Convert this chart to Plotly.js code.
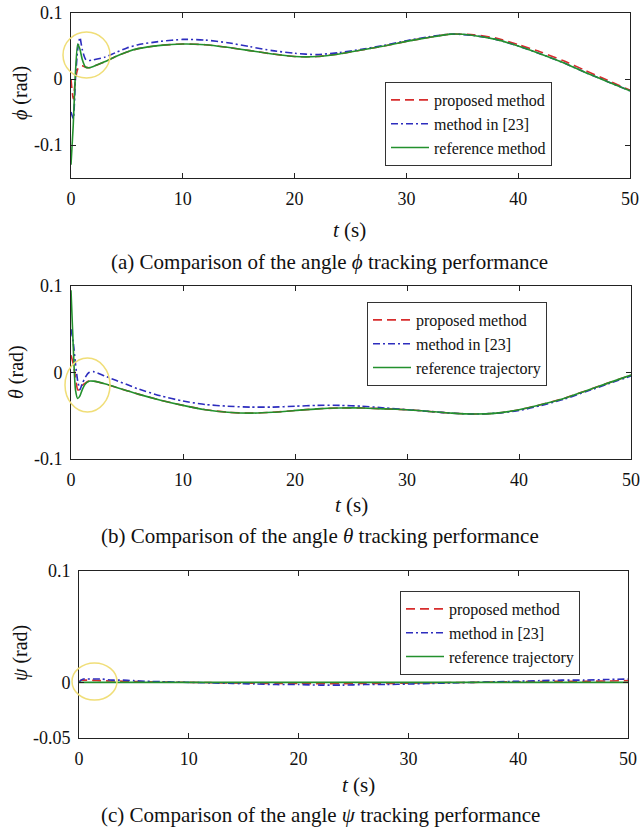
<!DOCTYPE html>
<html>
<head>
<meta charset="utf-8">
<script src="https://cdn.plot.ly/plotly-3.0.1.min.js"></script>
<style>html,body{margin:0;padding:0;background:#fff;}#chart{width:641px;height:829px;}</style>
</head>
<body>
<div id="chart"></div>
<script>
// ---- data ----
var time = [0, 0.2, 0.4, 0.6, 0.8, 1.0, 1.3, 1.6, 2, 3, 4, 5, 6, 8, 10, 12, 14, 16, 18, 20, 22, 24, 26, 28, 30, 32, 34, 36, 38, 40, 42, 44, 46, 48, 50];

var phiProposed  = [0.0, -0.03, 0.0, 0.015, 0.02, 0.02, 0.018, 0.017, 0.019, 0.026, 0.034, 0.041, 0.046, 0.051, 0.053, 0.052, 0.048, 0.043, 0.038, 0.034, 0.034, 0.038, 0.044, 0.05, 0.057, 0.063, 0.068, 0.067, 0.062, 0.052, 0.041, 0.028, 0.013, -0.002, -0.017];
var phiMethod23  = [-0.05, -0.06, 0.0, 0.045, 0.063, 0.045, 0.03, 0.028, 0.029, 0.033, 0.04, 0.047, 0.052, 0.057, 0.06, 0.059, 0.055, 0.049, 0.043, 0.039, 0.037, 0.04, 0.045, 0.051, 0.058, 0.064, 0.068, 0.066, 0.06, 0.05, 0.038, 0.025, 0.01, -0.004, -0.018];
var phiReference = [-0.13, -0.07, 0.01, 0.053, 0.045, 0.03, 0.018, 0.017, 0.019, 0.026, 0.034, 0.041, 0.046, 0.051, 0.053, 0.052, 0.048, 0.043, 0.038, 0.034, 0.034, 0.038, 0.044, 0.05, 0.057, 0.063, 0.068, 0.066, 0.06, 0.05, 0.038, 0.025, 0.01, -0.004, -0.018];

var thetaProposed  = [0.02, 0.01, -0.005, -0.02, -0.02, -0.015, -0.012, -0.01, -0.01, -0.013, -0.017, -0.021, -0.025, -0.032, -0.038, -0.043, -0.046, -0.047, -0.046, -0.044, -0.042, -0.041, -0.041, -0.042, -0.043, -0.045, -0.047, -0.048, -0.047, -0.043, -0.037, -0.03, -0.021, -0.012, -0.003];
var thetaMethod23  = [0.05, 0.035, 0.01, -0.01, -0.02, -0.013, -0.005, 0.0, 0.001, -0.004, -0.009, -0.014, -0.019, -0.027, -0.033, -0.037, -0.039, -0.04, -0.04, -0.039, -0.038, -0.038, -0.039, -0.041, -0.043, -0.045, -0.047, -0.048, -0.047, -0.044, -0.038, -0.031, -0.022, -0.013, -0.004];
var thetaReference = [0.095, 0.03, -0.02, -0.03, -0.027, -0.02, -0.013, -0.01, -0.01, -0.013, -0.017, -0.021, -0.025, -0.032, -0.038, -0.043, -0.046, -0.047, -0.046, -0.044, -0.042, -0.041, -0.041, -0.042, -0.043, -0.045, -0.047, -0.048, -0.047, -0.043, -0.037, -0.03, -0.021, -0.012, -0.003];

var psiProposed  = [0.0, 0.002, 0.002, 0.002, 0.002, 0.002, 0.0018, 0.0016, 0.0015, 0.0012, 0.001, 0.0008, 0.0005, 0.0002, 0.0, -0.0003, -0.0006, -0.0008, -0.001, -0.001, -0.0012, -0.0012, -0.001, -0.001, -0.0008, -0.0005, -0.0002, 0.0, 0.0003, 0.0005, 0.0008, 0.001, 0.001, 0.0012, 0.0015];
var psiMethod23  = [0.0, 0.002, 0.003, 0.003, 0.003, 0.003, 0.003, 0.003, 0.003, 0.002, 0.002, 0.0015, 0.001, 0.0005, 0.0, -0.0005, -0.001, -0.0015, -0.002, -0.002, -0.0025, -0.0025, -0.002, -0.002, -0.0015, -0.001, -0.0005, 0.0, 0.0005, 0.001, 0.0015, 0.002, 0.002, 0.0025, 0.003];
var psiReference = [0, 0, 0, 0, 0, 0, 0, 0, 0, 0, 0, 0, 0, 0, 0, 0, 0, 0, 0, 0, 0, 0, 0, 0, 0, 0, 0, 0, 0, 0, 0, 0, 0, 0, 0];

var seriesNames = ['proposed method', 'method in [23]', 'reference method', 'reference trajectory'];
var xTickVals = [0, 10, 20, 30, 40, 50];
var xTickText = ['0', '10', '20', '30', '40', '50'];
var captions = ['(a) Comparison of the angle <i>ϕ</i> tracking performance',
                '(b) Comparison of the angle <i>θ</i> tracking performance',
                '(c) Comparison of the angle <i>ψ</i> tracking performance'];

// ---- styling ----
var W = 641, H = 829;
var FONT = '"Liberation Serif", "Times New Roman", serif';
var RED = 'rgb(215,45,45)', BLUE = 'rgb(45,45,190)', GREEN = 'rgb(35,145,45)';
function px(x){ return x / W; }
function py(y){ return 1 - y / H; }

function tr(x, y, name, color, dash, xa, ya, lg){
  return {x: x, y: y, name: name, type: 'scatter', mode: 'lines', xaxis: xa, yaxis: ya,
          legend: lg, showlegend: true,
          line: {color: color, dash: dash, width: 1.6, shape: 'spline', smoothing: 0.6}};
}
var DASH = '9px,5px';
var DASHDOT = '7px,3px,2px,3px';

var data = [
  tr(time, phiProposed, seriesNames[0], RED, DASH, 'x', 'y', 'legend'),
  tr(time, phiMethod23, seriesNames[1], BLUE, DASHDOT, 'x', 'y', 'legend'),
  tr(time, phiReference, seriesNames[2], GREEN, 'solid', 'x', 'y', 'legend'),
  tr(time, thetaProposed, seriesNames[0], RED, DASH, 'x2', 'y2', 'legend2'),
  tr(time, thetaMethod23, seriesNames[1], BLUE, DASHDOT, 'x2', 'y2', 'legend2'),
  tr(time, thetaReference, seriesNames[3], GREEN, 'solid', 'x2', 'y2', 'legend2'),
  tr(time, psiProposed, seriesNames[0], RED, DASH, 'x3', 'y3', 'legend3'),
  tr(time, psiMethod23, seriesNames[1], BLUE, DASHDOT, 'x3', 'y3', 'legend3'),
  tr(time, psiReference, seriesNames[3], GREEN, 'solid', 'x3', 'y3', 'legend3')
];

var AXC = '#222';
function xax(domain, anchor){
  return {domain: domain, anchor: anchor, range: [0, 50], tickvals: xTickVals, ticktext: xTickText,
          ticks: 'inside', ticklen: 5, tickcolor: AXC, showline: true, linecolor: AXC, linewidth: 1,
          mirror: 'ticks', showgrid: false, zeroline: false, automargin: false, ticklabelstandoff: 4,
          tickfont: {family: FONT, size: 18, color: '#111'}};
}
function yax(domain, anchor, range, tv, tt){
  return {domain: domain, anchor: anchor, range: range, tickvals: tv, ticktext: tt,
          ticks: 'inside', ticklen: 5, tickcolor: AXC, showline: true, linecolor: AXC, linewidth: 1,
          mirror: 'ticks', showgrid: false, zeroline: false, automargin: false, ticklabelstandoff: 4,
          tickfont: {family: FONT, size: 18, color: '#111'}};
}
function leg(x, y){
  return {x: px(x), y: py(y), xanchor: 'left', yanchor: 'top', xref: 'paper', yref: 'paper',
          bgcolor: '#fff', bordercolor: '#333', borderwidth: 1,
          font: {family: FONT, size: 16, color: '#111'}, tracegroupgap: 0, itemwidth: 38};
}
function ann(x, y, text, size, angle){
  return {x: px(x), y: py(y), xref: 'paper', yref: 'paper', text: text, showarrow: false,
          textangle: angle || 0, font: {family: FONT, size: size, color: '#111'},
          xanchor: 'center', yanchor: 'middle'};
}
function ellipse(x0, y0, x1, y1){
  return {type: 'circle', xref: 'paper', yref: 'paper', x0: px(x0), x1: px(x1), y0: py(y1), y1: py(y0),
          line: {color: 'rgb(240,222,120)', width: 1.5}, fillcolor: 'rgba(0,0,0,0)'};
}

var layout = {
  width: W, height: H, margin: {l: 0, r: 0, t: 0, b: 0},
  paper_bgcolor: '#fff', plot_bgcolor: '#fff',
  xaxis: xax([px(71), px(630)], 'y'),
  yaxis: yax([py(178), py(13)], 'x', [-0.15, 0.1], [-0.1, 0, 0.1], ['-0.1', '0', '0.1']),
  xaxis2: xax([px(71), px(631)], 'y2'),
  yaxis2: yax([py(459), py(286)], 'x2', [-0.1, 0.1], [-0.1, 0, 0.1], ['-0.1', '0', '0.1']),
  xaxis3: xax([px(79), px(628)], 'y3'),
  yaxis3: yax([py(738), py(571)], 'x3', [-0.05, 0.1], [-0.05, 0, 0.1], ['-0.05', '0', '0.1']),
  legend: leg(385, 82),
  legend2: leg(367, 302),
  legend3: leg(400, 591),
  annotations: [
    ann(20, 93, '<i>ϕ</i> (rad)', 20, -90),
    ann(17, 372, '<i>θ</i> (rad)', 20, -90),
    ann(20, 653, '<i>ψ</i> (rad)', 20, -90),
    ann(349, 230, '<i>t</i> (s)', 21),
    ann(351, 505, '<i>t</i> (s)', 21),
    ann(358, 785, '<i>t</i> (s)', 21),
    ann(329, 262, captions[0], 21),
    ann(320, 536, captions[1], 21),
    ann(320, 815, captions[2], 21)
  ],
  shapes: [
    ellipse(63, 32, 110, 78),
    ellipse(65, 358, 110, 412),
    ellipse(72, 663, 117, 700)
  ]
};

Plotly.newPlot('chart', data, layout, {displayModeBar: false, staticPlot: true});
</script>
</body>
</html>
